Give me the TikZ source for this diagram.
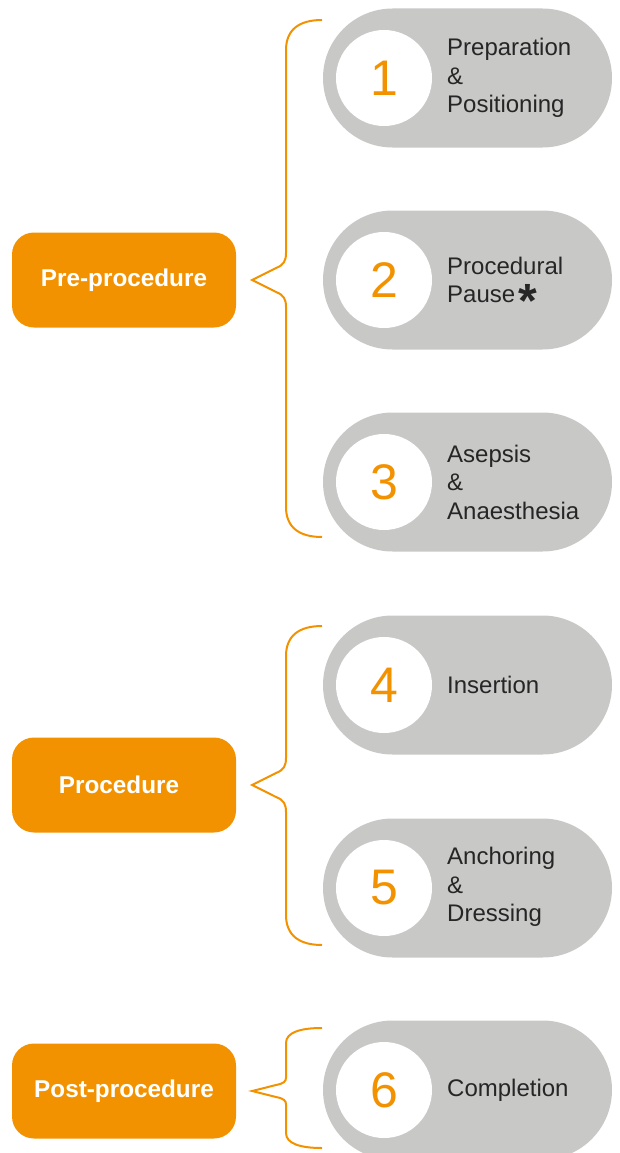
\documentclass[tikz,border=0pt]{standalone}
\usepackage{fontspec}
\setmainfont{Liberation Sans}
\usetikzlibrary{shapes.misc}

\definecolor{steporange}{HTML}{F39200}
\definecolor{stepgrey}{HTML}{C8C8C7}
\definecolor{stepink}{HTML}{262626}

% curly brace: label node, top y, tip y, bottom y, corner size
\newcommand{\phasebrace}[5]{%
  \draw[brace] (322,#2) .. controls (300,#2) and (286,#2+0.3*#5) .. (286,#2+#5)
    -- (286,#3-0.9*#5) .. controls (286,#3-0.65*#5) and (284,#3-0.5*#5) .. (276,#3-0.4*#5)
    -- ([xshift=16pt]#1.east)
    -- (276,#3+0.4*#5) .. controls (284,#3+0.5*#5) and (286,#3+0.65*#5) .. (286,#3+0.9*#5)
    -- (286,#4-#5) .. controls (286,#4-0.3*#5) and (300,#4) .. (322,#4);
}

\begin{document}
\begin{tikzpicture}[x=1pt, y=-1pt,
    phase/.style={fill=steporange, rounded corners=22pt, minimum width=224pt,
      minimum height=95pt, text=white, font=\fontsize{24.3}{28}\selectfont\bfseries},
    pill/.style={rounded rectangle, fill=stepgrey, minimum width=289pt,
      minimum height=139pt, inner sep=0pt},
    num/.style={circle, fill=white, minimum size=96pt, inner sep=0pt,
      text=steporange, font=\fontsize{50}{50}\selectfont},
    desc/.style={anchor=west, align=left, inner sep=0pt, text=stepink,
      font=\fontsize{24}{28.5}\selectfont},
    brace/.style={draw=steporange, line width=2pt}]
    \useasboundingbox (0,0) rectangle (619,1153);
    \clip (0,0) rectangle (619,1153);

    % Pre-procedure
    \node[phase] (ph1) at (124,280) {Pre-procedure};
    \node[pill] (s1) at (467.5,78) {};
    \node[num] (n1) at (384,78) {1};
    \node[desc] (t1) at (447,78) {Preparation\\\&\\Positioning};
    \node[pill] (s2) at (467.5,280) {};
    \node[num] (n2) at (384,280) {2};
    \node[desc] (t2) at (447,280) {Procedural\\Pause\hspace{3pt}\smash{\raisebox{-15pt}{\fontsize{48}{48}\selectfont\bfseries *}}};
    \node[pill] (s3) at (467.5,482) {};
    \node[num] (n3) at (384,482) {3};
    \node[desc] (t3) at (447,482) {Asepsis\\\&\\Anaesthesia};
    \phasebrace{ph1}{20}{280}{537}{30}

    % Procedure
    \node[phase] (ph2) at (124,785) {Procedure\hspace*{10pt}};
    \node[pill] (s4) at (467.5,685) {};
    \node[num] (n4) at (384,685) {4};
    \node[desc] (t4) at (447,685) {Insertion};
    \node[pill] (s5) at (467.5,888) {};
    \node[num] (n5) at (384,888) {5};
    \node[desc] (t5) at (447,887) {Anchoring\\\&\\Dressing};
    \phasebrace{ph2}{626}{785}{945}{30}

    % Post-procedure
    \node[phase] (ph3) at (124,1091) {Post-procedure};
    \node[pill] (s6) at (467.5,1090) {};
    \node[num] (n6) at (384,1090) {6};
    \node[desc] (t6) at (447,1090) {Completion};
    \phasebrace{ph3}{1028}{1091}{1148}{15}
\end{tikzpicture}
\end{document}
